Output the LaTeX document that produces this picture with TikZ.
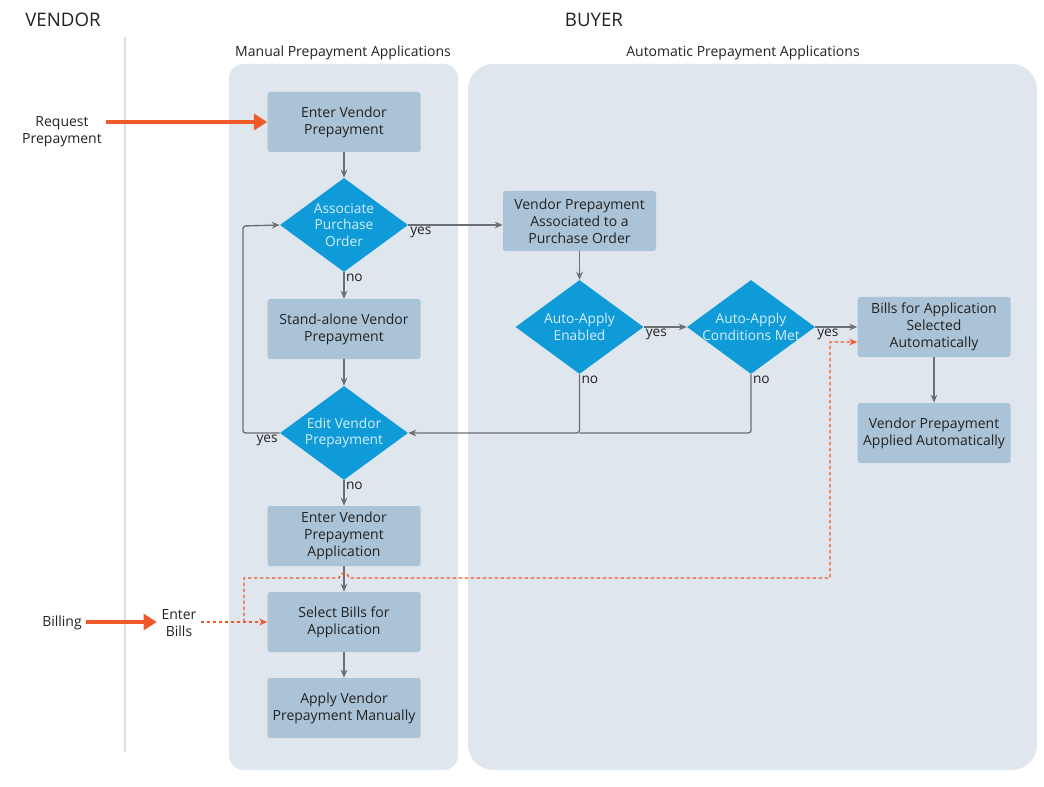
\documentclass[tikz,border=0pt]{standalone}
\usepackage{fontspec}
\setmainfont{Open Sans}
\usetikzlibrary{arrows.meta}
\usetikzlibrary{shapes.geometric}
\usetikzlibrary{positioning}

\definecolor{panelbg}{HTML}{DFE6EE}
\definecolor{boxbg}{HTML}{ABC3D6}
\definecolor{decbg}{HTML}{0F9BD7}
\definecolor{dectext}{HTML}{D6EDF8}
\definecolor{flowgray}{HTML}{6B6F75}
\definecolor{vorange}{HTML}{F05A28}
\definecolor{laneline}{HTML}{D3DEE8}
\definecolor{ink}{HTML}{222222}

\tikzset{
  stepbox/.style={fill=boxbg, rounded corners=2pt, minimum width=114.75pt,
    minimum height=45pt, inner sep=0pt, align=center, text=ink,
    font=\fontsize{10.5}{12.75}\selectfont},
  decision/.style={diamond, fill=decbg, minimum width=96pt, minimum height=70.5pt,
    aspect=1.36, inner sep=-4pt, align=center, text=dectext,
    font=\fontsize{10.3}{12.4}\selectfont},
  flow/.style={flowgray, line width=1pt, rounded corners=2pt,
    -{Stealth[length=6pt,width=5pt]}},
  bigflow/.style={vorange, line width=3pt, -{Triangle[length=10pt,width=12pt]}},
  billflow/.style={vorange, line width=1.1pt, dash pattern=on 2.5pt off 2pt,
    -{Stealth[length=6pt,width=5pt]}},
  lbl/.style={text=ink, inner sep=1pt, font=\fontsize{10.3}{12}\selectfont},
  side/.style={text=ink, align=center, font=\fontsize{10.5}{12.75}\selectfont},
  lane/.style={text=ink, font=\fontsize{14}{16}\selectfont},
  paneltitle/.style={text=ink, font=\fontsize{10.5}{12}\selectfont}
}

\begin{document}
\begin{tikzpicture}[x=0.75pt,y=-0.75pt]
  \useasboundingbox (0,0) rectangle (1044,787);

  % Lanes and panels
  \node[lane] (vendor) at (63,20) {VENDOR};
  \node[lane] (buyer) at (594,20) {BUYER};
  \draw[laneline, line width=1.5pt] (125,37) -- (125,752);
  \fill[panelbg, rounded corners=11pt] (229,64) rectangle (458,770);
  \fill[panelbg, rounded corners=19pt] (468,64) rectangle (1037,770);
  \node[paneltitle] (mantitle) at (343,53) {Manual Prepayment Applications};
  \node[paneltitle] (autotitle) at (743,53) {Automatic Prepayment Applications};

  % Manual column
  \node[stepbox] (enterpre) at (344,122) {Enter Vendor\\Prepayment};
  \node[decision] (assoc) at (344,225) {Associate\\Purchase\\Order};
  \node[stepbox] (standalone) at (344,329) {Stand-alone Vendor\\Prepayment};
  \node[decision] (editpre) at (344,433) {Edit Vendor\\Prepayment};
  \node[stepbox] (enterapp) at (344,536) {Enter Vendor\\Prepayment\\Application};
  \node[stepbox] (selbills) at (344,622) {Select Bills for\\Application};
  \node[stepbox] (applyman) at (344,708) {Apply Vendor\\Prepayment Manually};

  % Automatic column
  \node[stepbox] (assocpo) at (579.5,221) {Vendor Prepayment\\Associated to a\\Purchase Order};
  \node[decision] (autoen) at (579.5,327) {Auto-Apply\\Enabled};
  \node[decision] (autocond) at (751,327) {Auto-Apply\\Conditions Met};
  \node[stepbox] (billsauto) at (934,327) {Bills for Application\\Selected\\Automatically};
  \node[stepbox] (appliedauto) at (934,433) {Vendor Prepayment\\Applied Automatically};

  % Vendor side
  \node[side] (reqpre) at (62,132) {Request\\Prepayment};
  \node[side] (billing) at (62,623) {Billing};
  \node[side] (enterbills) at (179,623) {Enter\\Bills};
  \coordinate (branch) at (244,622);

  \draw[bigflow] (reqpre.east |- enterpre.west) -- (enterpre.west);
  \draw[bigflow] (billing.east |- selbills.west) -- (enterbills.west |- selbills.west);

  % Manual flow
  \draw[flow] (enterpre) -- (assoc);
  \draw[flow] (assoc.east) -- node[lbl, at start, below right] {yes} (assocpo.west |- assoc.east);
  \draw[flow] (assoc) -- node[lbl, at start, below right] {no} (standalone);
  \draw[flow] (standalone) -- (editpre);
  \draw[flow] (editpre.west) -- node[lbl, at start, below left] {yes} (243,433) -- (243,226) -- (assoc.west);
  \draw[flow] (editpre) -- node[lbl, at start, below right] {no} (enterapp);
  \draw[flow] (enterapp) -- (selbills);
  \draw[flow] (selbills) -- (applyman);

  % Automatic flow
  \draw[flow] (assocpo) -- (autoen);
  \draw[flow] (autoen.east) -- node[lbl, at start, below right] {yes} (autocond.west);
  \draw[flow] (autocond.east) -- node[lbl, at start, below right] {yes} (billsauto.west |- autocond.east);
  \draw[flow] (autoen.south) -- node[lbl, at start, below right] {no} (autoen.south |- editpre.east) -- (editpre.east);
  \draw[flowgray, line width=1pt, rounded corners=2pt] (autocond.south) -- node[lbl, at start, below right] {no} (autocond.south |- editpre.east) -- (autoen.south |- editpre.east);
  \draw[flow] (billsauto) -- (appliedauto);

  % Bills
  \draw[billflow] (enterbills.east |- selbills.west) -- (selbills.west);
  \draw[billflow] (branch) -- (244,578) -- (339,578) arc (180:360:5) -- (830,578) |- (billsauto.west |- 0,342);
\end{tikzpicture}
\end{document}
